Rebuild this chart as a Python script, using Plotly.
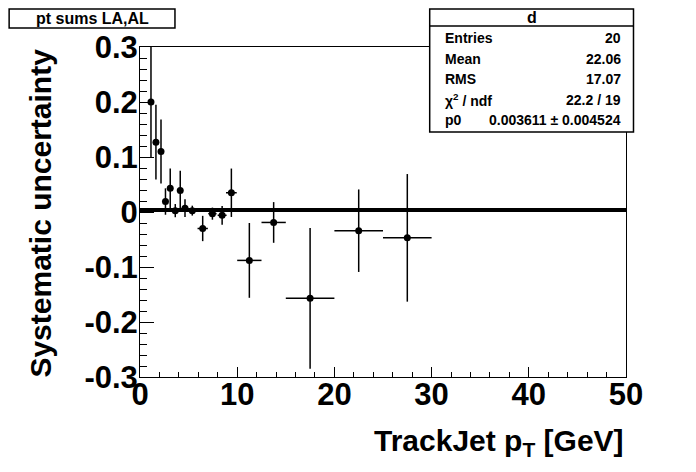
import plotly.graph_objects as go

# TrackJet pT bin centres [GeV], half-widths and systematic uncertainty values
pt = [1.13, 1.64, 2.16, 2.62, 3.11, 3.63, 4.14, 4.63, 5.38, 6.45, 7.45, 8.45, 9.4,
      11.25, 13.75, 17.5, 22.5, 27.5]
pt_halfwidth = [0.25, 0.25, 0.25, 0.25, 0.25, 0.25, 0.25, 0.33, 0.34, 0.53, 0.43, 0.46, 0.55,
                1.25, 1.25, 2.5, 2.5, 2.5]
syst = [0.200, 0.127, 0.110, 0.019, 0.043, 0.0025, 0.039, 0.007, 0.0025, -0.030, -0.003,
        -0.006, 0.035, -0.088, -0.019, -0.157, -0.034, -0.047]
syst_err = [0.100, 0.068, 0.058, 0.024, 0.036, 0.012, 0.036, 0.016, 0.009, 0.023, 0.011,
            0.017, 0.044, 0.068, 0.037, 0.128, 0.075, 0.116]

# constant fit (pol0)
fit_range = [0, 50]
p0 = 0.003611
p0_err = 0.004524

stats_labels = ["Entries", "Mean", "RMS", "χ<sup>2</sup> / ndf", "p0"]
stats_values = ["20", "22.06", "17.07", "22.2 / 19", f"{p0:.6f} ± {p0_err:.6f}"]

y_tickvals = [-0.3, -0.2, -0.1, 0, 0.1, 0.2, 0.3]
y_ticktext = ["-0.3", "-0.2", "-0.1", "0", "0.1", "0.2", "0.3"]

# page has an 8px body margin, so the figure is drawn at (8, 8)
OFF = 8
W, H = 696 - OFF, 472 - OFF
# plot frame in page pixels: x 140..626.5, y 46.7..376.7
L, T = 140 - OFF, 47 - OFF
R, B = W - (626.5 - OFF), H - (376.7 - OFF)
FONT = "Liberation Sans"


def px(x):
    # page pixel -> paper x
    return (x - OFF - L) / (W - L - R)


def py(y):
    # page pixel -> paper y
    return (H - B - (y - OFF)) / (H - T - B)


fig = go.Figure()

fig.add_trace(go.Scatter(
    x=fit_range, y=[p0] * len(fit_range),
    mode="lines", line=dict(color="black", width=4),
    showlegend=False, hoverinfo="skip"
))

fig.add_trace(go.Scatter(
    x=pt, y=syst,
    mode="markers",
    marker=dict(color="black", size=7),
    error_x=dict(type="data", array=pt_halfwidth, color="black", thickness=1.5, width=0),
    error_y=dict(type="data", array=syst_err, color="black", thickness=1.5, width=0),
    showlegend=False
))

axis_common = dict(
    showline=True, linecolor="black", linewidth=1, mirror=True,
    ticks="inside", tickcolor="black", showgrid=False, zeroline=False,
    tickfont=dict(family=FONT, size=31, color="black", weight="bold"),
)

fig.update_xaxes(
    range=[0, 50], dtick=10, ticklen=10, ticklabelstandoff=-10,
    minor=dict(ticks="inside", dtick=2, ticklen=5, tickcolor="black", showgrid=False),
    **axis_common
)
fig.update_yaxes(
    range=[-0.3, 0.3], tickvals=y_tickvals, ticktext=y_ticktext, ticklen=14,
    ticklabelstandoff=-5,
    minor=dict(ticks="inside", dtick=0.02, ticklen=7, tickcolor="black", showgrid=False),
    **axis_common
)

shapes = []
annotations = []

# axis titles, ROOT style (right / top aligned)
annotations.append(dict(
    xref="paper", yref="paper", x=1, y=py(463), xanchor="right", yanchor="bottom",
    text="TrackJet p<sub>T</sub> [GeV]", showarrow=False,
    font=dict(family=FONT, size=30, color="black", weight="bold")
))
annotations.append(dict(
    xref="paper", yref="paper", x=px(40), y=1, xanchor="center", yanchor="top",
    text="Systematic uncertainty", textangle=-90, showarrow=False,
    font=dict(family=FONT, size=30, color="black", weight="bold")
))

# title box
shapes.append(dict(type="rect", xref="paper", yref="paper",
                   x0=px(9), x1=px(175), y0=py(28), y1=py(9),
                   line=dict(color="black", width=1.5), fillcolor="white"))
annotations.append(dict(
    xref="paper", yref="paper", x=px(92), y=py(18.5), xanchor="center", yanchor="middle",
    text="pt sums LA,AL", showarrow=False,
    font=dict(family=FONT, size=16, color="black", weight="bold")
))

# stats box
shapes.append(dict(type="rect", xref="paper", yref="paper",
                   x0=px(430), x1=px(634), y0=py(132), y1=py(9),
                   line=dict(color="black", width=1.5), fillcolor="white", layer="above"))
shapes.append(dict(type="line", xref="paper", yref="paper",
                   x0=px(430), x1=px(634), y0=py(26), y1=py(26),
                   line=dict(color="black", width=1.5)))
annotations.append(dict(
    xref="paper", yref="paper", x=px(532), y=py(17.5), xanchor="center", yanchor="middle",
    text="d", showarrow=False,
    font=dict(family=FONT, size=16, color="black", weight="bold")
))
for i, (lab, val) in enumerate(zip(stats_labels, stats_values)):
    yy = py(38 + i * 20.5)
    annotations.append(dict(
        xref="paper", yref="paper", x=px(443), y=yy, xanchor="left", yanchor="middle",
        text=lab, showarrow=False,
        font=dict(family=FONT, size=14, color="black", weight="bold")
    ))
    annotations.append(dict(
        xref="paper", yref="paper", x=px(623), y=yy, xanchor="right", yanchor="middle",
        text=val, showarrow=False,
        font=dict(family=FONT, size=14, color="black", weight="bold")
    ))

fig.update_layout(
    width=W, height=H,
    margin=dict(l=L, r=R, t=T, b=B, autoexpand=False),
    paper_bgcolor="white", plot_bgcolor="white",
    shapes=shapes, annotations=annotations,
    showlegend=False
)

fig.write_html("out.html")
